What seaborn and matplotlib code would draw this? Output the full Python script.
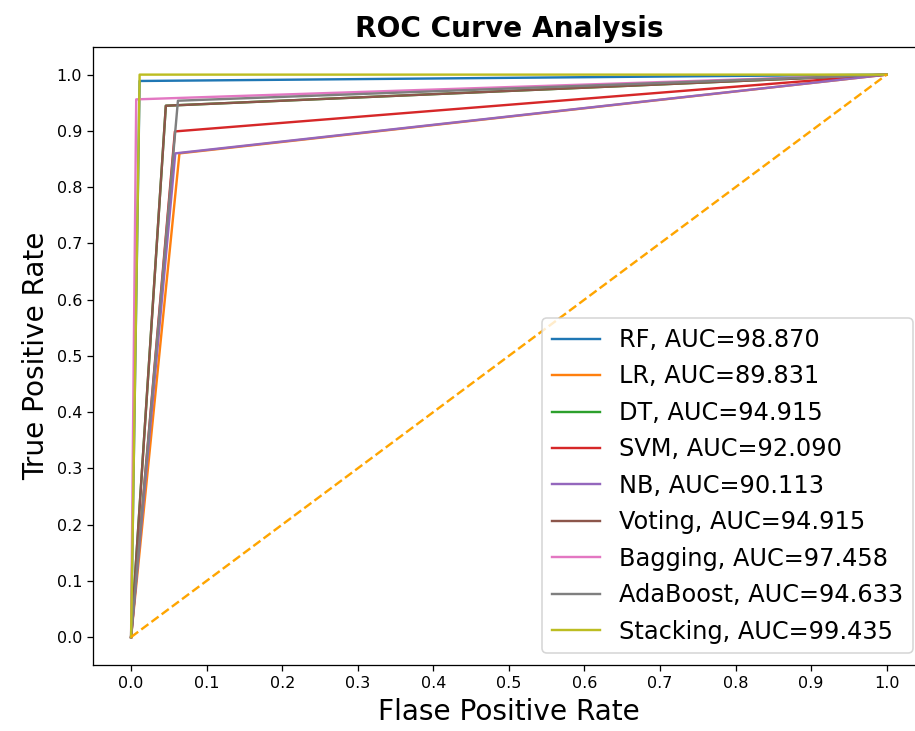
import pandas as pd
import seaborn as sns
import matplotlib
matplotlib.use("Agg")
import matplotlib.pyplot as plt

# models and their reported scores
models = ['RF', 'LR', 'DT', 'SVM', 'NB', 'Voting', 'Bagging', 'AdaBoost', 'Stacking']
auc_scores = [98.870, 89.831, 94.915, 92.090, 90.113, 94.915, 97.458, 94.633, 99.435]

# single operating point (fpr, tpr) of each classifier
fpr_points = [0.0113, 0.064, 0.046, 0.058, 0.0585, 0.046, 0.0068, 0.062, 0.0113]
tpr_points = [0.9887, 0.860, 0.9447, 0.899, 0.860, 0.9447, 0.956, 0.9536, 1.0]

# build ROC curves: (0,0) -> (fpr,tpr) -> (1,1)
rows = []
for name, auc, f, t in zip(models, auc_scores, fpr_points, tpr_points):
    label = f"{name}, AUC={auc:.3f}"
    for x, y in [(0.0, 0.0), (f, t), (1.0, 1.0)]:
        rows.append({'model': label, 'fpr': x, 'tpr': y})
roc_df = pd.DataFrame(rows)

fig = plt.figure(figsize=(915 / 115, 731 / 115), dpi=115)
ax = fig.add_axes([93.3 / 915, 1 - 665.2 / 731, 831.2 / 915, 618.7 / 731])

sns.lineplot(data=roc_df, x='fpr', y='tpr', hue='model', palette='tab10',
             estimator=None, sort=False, linewidth=1.5, ax=ax)

# chance line
ax.plot([0, 1], [0, 1], color='orange', linestyle='--')

ax.set_xticks([i / 10 for i in range(11)])
ax.set_yticks([i / 10 for i in range(11)])
ax.set_title('ROC Curve Analysis', fontsize=17.5, fontweight='bold')
ax.set_xlabel('Flase Positive Rate', fontsize=17.5)
ax.set_ylabel('True Positive Rate', fontsize=17.5)
ax.legend(loc='lower right', fontsize=15, labelspacing=0.52)

fig.savefig('out.png', dpi=115)
